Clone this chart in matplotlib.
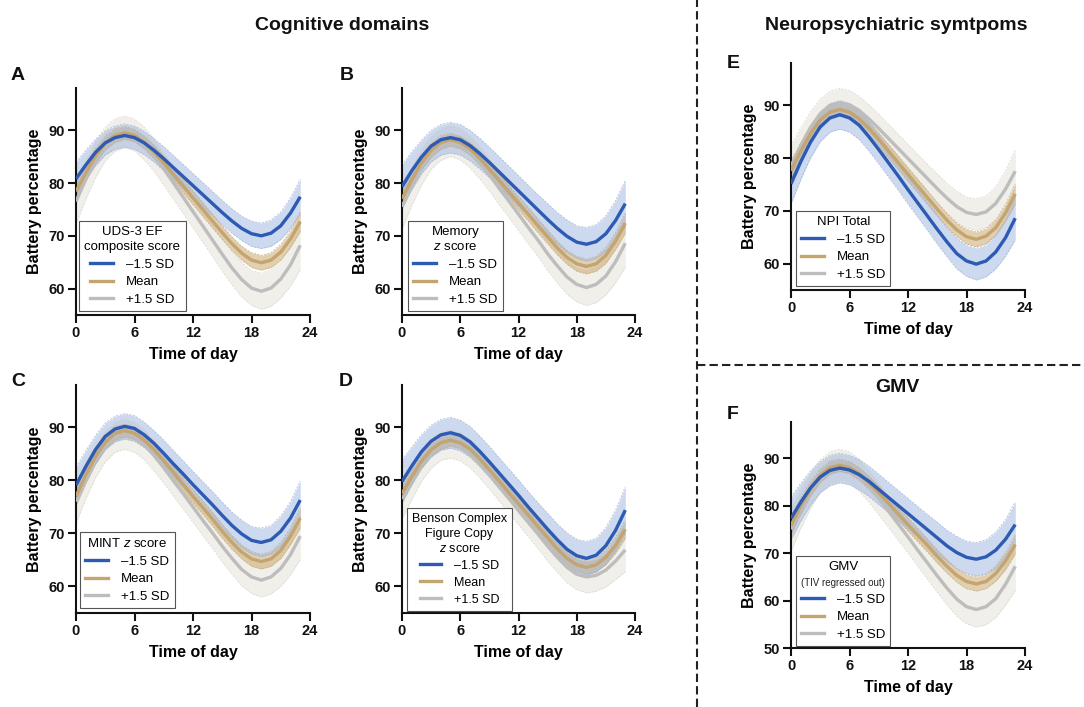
import matplotlib
matplotlib.use("Agg")
import matplotlib.pyplot as plt
from matplotlib.lines import Line2D
from matplotlib.offsetbox import TextArea

plt.rcParams['font.family'] = ['Liberation Sans', 'DejaVu Sans']
plt.rcParams['mathtext.fontset'] = 'custom'
plt.rcParams['mathtext.it'] = 'Liberation Sans:italic'
plt.rcParams['mathtext.rm'] = 'Liberation Sans'

# ---------------- data ----------------
hours = list(range(24))
x_ticks = [0, 6, 12, 18, 24]
y_ticks_main = [60, 70, 80, 90]
y_ticks_gmv = [50, 60, 70, 80, 90]
series_labels = ['\u20131.5 SD', 'Mean', '+1.5 SD']

A_minus = [80.8,83.4,85.8,87.6,88.6,89.0,88.6,87.6,86.2,84.6,82.9,81.2,79.5,77.8,76.1,74.4,72.8,71.4,70.4,70.0,70.5,71.9,74.3,77.4]
A_mean  = [78.4,81.9,85.1,87.6,89.0,89.5,89.0,87.7,85.9,83.8,81.6,79.4,77.2,75.0,72.8,70.6,68.5,66.7,65.4,64.9,65.4,66.9,69.4,72.7]
A_plus  = [76.5,80.7,84.5,87.4,89.1,89.7,89.1,87.5,85.3,82.7,80.0,77.3,74.6,71.9,69.2,66.5,63.9,61.7,60.1,59.5,60.1,61.8,64.5,68.2]

B_minus = [79.3,82.3,84.9,87.0,88.2,88.6,88.2,87.1,85.6,83.9,82.1,80.3,78.5,76.7,74.9,73.1,71.4,69.9,68.8,68.4,68.9,70.4,72.9,76.1]
B_mean  = [77.0,80.6,83.8,86.2,87.7,88.2,87.7,86.5,84.7,82.6,80.5,78.3,76.2,74.1,71.9,69.8,67.7,65.9,64.7,64.2,64.7,66.3,69.0,72.4]
B_plus  = [75.5,79.5,83.1,85.8,87.4,88.0,87.4,86.0,83.9,81.6,79.0,76.6,74.1,71.6,69.2,66.6,64.3,62.2,60.8,60.2,60.8,62.4,65.1,68.6]

C_minus = [79.1,82.6,85.8,88.3,89.7,90.2,89.8,88.6,87.0,85.1,83.1,81.2,79.2,77.3,75.4,73.4,71.5,69.9,68.7,68.3,68.8,70.4,72.9,76.3]
C_mean  = [77.0,81.0,84.5,87.2,88.9,89.4,88.9,87.6,85.8,83.7,81.5,79.2,77.0,74.9,72.7,70.4,68.3,66.5,65.2,64.7,65.2,66.8,69.5,72.9]
C_plus  = [76.0,80.1,83.7,86.5,88.2,88.8,88.2,86.8,84.7,82.4,79.9,77.5,75.0,72.5,70.1,67.6,65.3,63.2,61.8,61.2,61.8,63.4,66.0,69.5]

D_minus = [79.8,82.7,85.4,87.4,88.6,89.0,88.5,87.3,85.5,83.5,81.4,79.3,77.2,75.0,72.9,70.8,68.8,67.0,65.8,65.3,65.9,67.7,70.6,74.4]
D_mean  = [77.5,80.7,83.6,85.8,87.1,87.6,87.1,85.9,84.1,82.0,79.9,77.7,75.6,73.5,71.3,69.2,67.1,65.3,64.1,63.6,64.1,65.5,67.8,70.8]
D_plus  = [76.5,79.8,82.8,85.1,86.5,86.9,86.4,85.1,83.2,81.1,78.8,76.6,74.3,72.1,69.9,67.6,65.5,63.6,62.3,61.8,62.1,63.1,64.8,66.9]

E_minus = [75.1,79.3,83.0,85.9,87.6,88.2,87.6,86.2,84.0,81.6,79.1,76.6,74.0,71.5,69.0,66.5,64.1,61.9,60.5,59.9,60.5,62.2,64.9,68.6]
E_mean  = [77.6,81.3,84.6,87.2,88.7,89.2,88.7,87.4,85.6,83.5,81.3,79.1,76.9,74.7,72.5,70.3,68.2,66.4,65.1,64.6,65.2,66.8,69.6,73.2]
E_plus  = [78.5,82.3,85.8,88.4,90.0,90.5,90.1,89.0,87.4,85.6,83.7,81.8,79.9,78.0,76.1,74.2,72.4,70.8,69.7,69.3,69.8,71.4,74.1,77.5]

F_minus = [77.3,80.7,83.7,86.0,87.4,87.9,87.5,86.5,85.1,83.4,81.7,80.0,78.3,76.6,74.9,73.2,71.5,70.1,69.1,68.7,69.2,70.6,72.9,76.0]
F_mean  = [75.8,79.9,83.5,86.3,88.0,88.5,88.0,86.7,84.8,82.7,80.5,78.2,76.0,73.8,71.6,69.3,67.2,65.3,64.0,63.5,64.0,65.7,68.3,71.8]
F_plus  = [75.0,79.4,83.2,86.2,88.0,88.6,88.0,86.4,84.1,81.5,78.8,76.1,73.4,70.6,67.9,65.2,62.6,60.3,58.7,58.1,58.7,60.4,63.4,67.2]

ci_12 = [1.6,1.4,1.3,1.2,1.2,1.1,1.1,1.2,1.2,1.2,1.2,1.2,1.2,1.2,1.2,1.2,1.2,1.2,1.2,1.3,1.3,1.4,1.5,1.7]
ci_13 = [1.8,1.6,1.4,1.3,1.3,1.2,1.2,1.2,1.3,1.3,1.3,1.3,1.3,1.3,1.3,1.3,1.3,1.3,1.4,1.4,1.4,1.5,1.6,1.9]
ci_14 = [1.9,1.7,1.5,1.4,1.4,1.3,1.3,1.3,1.4,1.4,1.4,1.4,1.4,1.4,1.4,1.4,1.4,1.4,1.5,1.5,1.5,1.6,1.8,2.0]
ci_23 = [3.1,2.8,2.5,2.3,2.2,2.2,2.2,2.2,2.2,2.3,2.3,2.3,2.3,2.3,2.3,2.3,2.3,2.3,2.4,2.4,2.5,2.6,2.9,3.3]
ci_25 = [3.4,3.0,2.7,2.5,2.4,2.4,2.4,2.4,2.4,2.5,2.5,2.5,2.5,2.5,2.5,2.5,2.5,2.6,2.6,2.7,2.7,2.9,3.1,3.6]
ci_28 = [3.8,3.4,3.0,2.8,2.7,2.7,2.7,2.7,2.7,2.7,2.7,2.7,2.7,2.7,2.7,2.8,2.8,2.9,2.9,3.0,3.0,3.2,3.5,4.1]
ci_30 = [4.1,3.6,3.2,3.0,2.9,2.9,2.9,2.9,2.9,2.9,2.9,2.9,2.9,2.9,2.9,3.0,3.0,3.1,3.1,3.2,3.2,3.4,3.8,4.4]
ci_32 = [4.3,3.8,3.5,3.2,3.1,3.0,3.0,3.1,3.1,3.1,3.1,3.1,3.1,3.1,3.1,3.2,3.2,3.3,3.3,3.4,3.5,3.6,4.0,4.6]
ci_33 = [4.5,4.0,3.6,3.3,3.2,3.1,3.1,3.2,3.2,3.2,3.2,3.2,3.2,3.2,3.2,3.3,3.3,3.4,3.4,3.5,3.6,3.8,4.1,4.8]
ci_35 = [4.7,4.2,3.8,3.5,3.4,3.3,3.3,3.4,3.4,3.4,3.4,3.4,3.4,3.4,3.4,3.5,3.5,3.6,3.6,3.7,3.8,4.0,4.4,5.1]

legend_titles = {
    'A': 'UDS-3 EF\ncomposite score',
    'B': 'Memory\n$z$ score',
    'C': 'MINT $z$ score',
    'D': 'Benson Complex\nFigure Copy\n$z$ score',
    'E': 'NPI Total',
    'F': 'GMV',
}
gmv_subtitle = '(TIV regressed out)'

# ---------------- style ----------------
W, H = 1084, 707
line_colors = ['#2d5ab3', '#c4a46f', '#bdbdbd']
band_colors = ['#9db4de', '#c9a86e', '#e4e2d8']
band_alpha = [0.5, 0.55, 0.55]
edge_colors = ['#a3b6da', '#c8ae82', '#d9d7cd']

fig = plt.figure(figsize=(W / 100, H / 100), dpi=100)


def px_axes(left, top, right, bottom):
    return fig.add_axes([left / W, 1 - bottom / H, (right - left) / W, (bottom - top) / H])


def draw_panel(rect, series, cis, ylim, yticks, title, anchor, subtitle=None, fs=9.5):
    ax = px_axes(*rect)
    for i in [2, 1, 0]:
        y = series[i]
        lo = [a - b for a, b in zip(y, cis[i])]
        hi = [a + b for a, b in zip(y, cis[i])]
        ax.fill_between(hours, lo, hi, color=band_colors[i], alpha=band_alpha[i], lw=0, zorder=1)
        ax.plot(hours, lo, color=edge_colors[i], lw=0.5, ls=(0, (3, 2)), zorder=1.5)
        ax.plot(hours, hi, color=edge_colors[i], lw=0.5, ls=(0, (3, 2)), zorder=1.5)
    for i in [2, 1, 0]:
        ax.plot(hours, series[i], color=line_colors[i], lw=2.4, zorder=3,
                solid_joinstyle='round', solid_capstyle='butt')
    ax.set_xlim(0, 24)
    ax.set_ylim(*ylim)
    ax.set_xticks(x_ticks)
    ax.set_yticks(yticks)
    for s in ['top', 'right']:
        ax.spines[s].set_visible(False)
    for s in ['left', 'bottom']:
        ax.spines[s].set_linewidth(1.5)
        ax.spines[s].set_color('#111111')
    ax.tick_params(direction='out', length=5.5, width=1.5, pad=2.5, labelsize=10.5,
                   colors='#111111')
    for lab in ax.get_xticklabels() + ax.get_yticklabels():
        lab.set_fontweight('bold')
    ax.set_ylabel('Battery percentage', fontsize=11.5, fontweight='bold', labelpad=5)
    ax.set_xlabel('Time of day', fontsize=11.5, fontweight='bold', labelpad=5)
    handles = [Line2D([], [], color=line_colors[i], lw=2.4) for i in range(3)]
    leg = ax.legend(handles, series_labels, title=title, loc='lower left',
                    bbox_to_anchor=anchor, borderaxespad=0, fontsize=fs, title_fontsize=fs,
                    frameon=True, fancybox=False, edgecolor='#555555', framealpha=1,
                    handlelength=1.7, handletextpad=1.0, labelspacing=0.4,
                    borderpad=0.4)
    leg.get_frame().set_linewidth(0.8)
    leg.get_title().set_multialignment('center')
    leg.get_title().set_linespacing(1.3)
    leg.set_zorder(5)
    if subtitle:
        sub = TextArea(subtitle, textprops=dict(fontsize=7, color='#222222'))
        leg._legend_box._children.insert(1, sub)
        sub.set_figure(fig)
    return ax


draw_panel((76, 88, 310, 315), [A_minus, A_mean, A_plus], [ci_23, ci_13, ci_32],
           (55, 98), y_ticks_main, legend_titles['A'], (0.013, 0.018))
draw_panel((402, 88, 635, 315), [B_minus, B_mean, B_plus], [ci_30, ci_13, ci_32],
           (55, 98), y_ticks_main, legend_titles['B'], (0.026, 0.018))
draw_panel((76, 385, 310, 613), [C_minus, C_mean, C_plus], [ci_25, ci_13, ci_30],
           (55, 98), y_ticks_main, legend_titles['C'], (0.017, 0.022))
draw_panel((402, 385, 635, 613), [D_minus, D_mean, D_plus], [ci_30, ci_12, ci_28],
           (55, 98), y_ticks_main, legend_titles['D'], (0.021, 0.01), fs=9)
draw_panel((791, 63, 1025, 290), [E_minus, E_mean, E_plus], [ci_28, ci_13, ci_28],
           (55, 98), y_ticks_main, legend_titles['E'], (0.021, 0.018))
draw_panel((791, 422, 1025, 648), [F_minus, F_mean, F_plus], [ci_33, ci_14, ci_35],
           (50, 97.6), y_ticks_gmv, legend_titles['F'], (0.021, 0.009), subtitle=gmv_subtitle)

# panel letters
for letter, (x, y) in {'A': (18, 75), 'B': (347, 75), 'C': (18, 382), 'D': (346, 382),
                       'E': (733, 63), 'F': (733, 415)}.items():
    fig.text(x / W, 1 - y / H, letter, fontsize=14, fontweight='bold', ha='center', va='center',
             color='#111111')

# section titles
fig.text(342 / W, 1 - 25 / H, 'Cognitive domains', fontsize=14, fontweight='bold',
         ha='center', va='center', color='#111111')
fig.text(896 / W, 1 - 25 / H, 'Neuropsychiatric symtpoms', fontsize=14, fontweight='bold',
         ha='center', va='center', color='#111111')
fig.text(897 / W, 1 - 387 / H, 'GMV', fontsize=14, fontweight='bold',
         ha='center', va='center', color='#111111')

# dashed separators
fig.add_artist(Line2D([697 / W, 697 / W], [0, 1], transform=fig.transFigure,
                      color='#222222', lw=1.5, ls=(0, (4, 2))))
fig.add_artist(Line2D([697 / W, 1], [1 - 365 / H, 1 - 365 / H], transform=fig.transFigure,
                      color='#222222', lw=1.5, ls=(0, (4, 2))))

fig.savefig('out.png', dpi=100, facecolor='white')
